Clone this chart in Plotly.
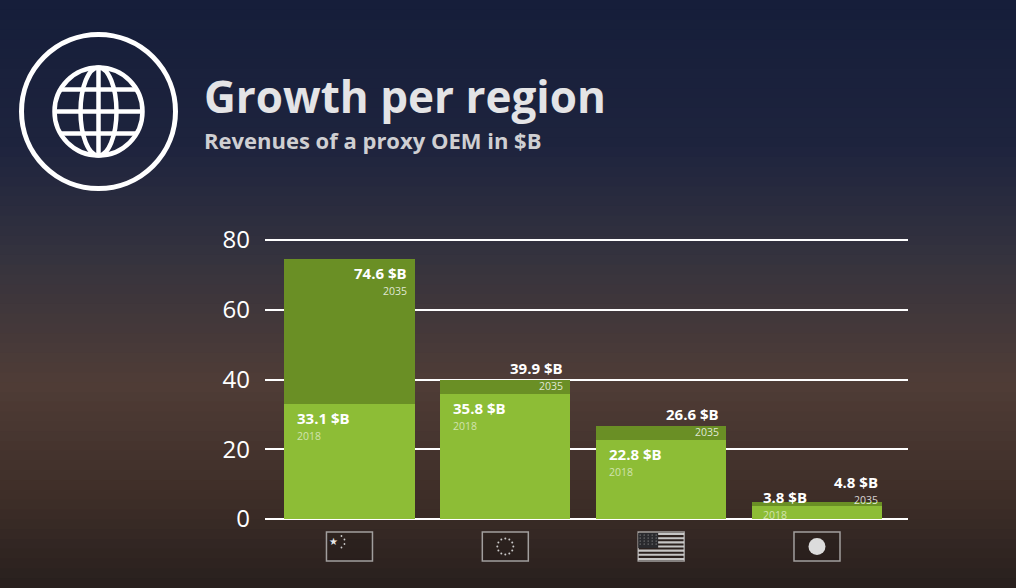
import numpy as np
import plotly.graph_objects as go

# data (revenues of a proxy OEM in $B)
regions = ["China", "EU", "USA", "Japan"]
rev_2018 = [33.1, 35.8, 22.8, 3.8]
rev_2035 = [74.6, 39.9, 26.6, 4.8]
y_ticks = [0, 20, 40, 60, 80]

W, H = 1016, 588
FONT = "Open Sans"
DARK_GREEN = "#6a8f25"
LIGHT_GREEN = "#8dbd36"

# plot area in pixels
x_left, x_right = 265, 908
y_bottom, y_top = 526, 233
y_range = [-2, 82]
x_range = [-0.542, 3.584]
bar_w = 0.836
px_per_y = (y_bottom - y_top) / (y_range[1] - y_range[0])
px_per_x = (x_right - x_left) / (x_range[1] - x_range[0])


def px(x):
    return x / W


def py(y):
    return 1 - y / H


fig = go.Figure()

fig.add_trace(go.Bar(x=list(range(len(regions))), y=rev_2035, width=bar_w,
                     marker=dict(color=DARK_GREEN, line=dict(width=0)),
                     name="2035", hoverinfo="y"))
fig.add_trace(go.Bar(x=list(range(len(regions))), y=rev_2018, width=bar_w,
                     marker=dict(color=LIGHT_GREEN, line=dict(width=0)),
                     name="2018", hoverinfo="y"))

shapes = []
annotations = []

# background: vertical gradient to mimic the blurred night city photo
stops = [(0.0, (22, 30, 58)), (0.25, (30, 36, 62)), (0.45, (55, 52, 62)),
         (0.65, (80, 61, 55)), (0.85, (62, 46, 40)), (1.0, (40, 32, 30))]
n_bands = 60
for k in range(n_bands):
    t = (k + 0.5) / n_bands
    for (t0, c0), (t1, c1) in zip(stops[:-1], stops[1:]):
        if t0 <= t <= t1:
            f = (t - t0) / (t1 - t0)
            c = [int(a + (b - a) * f) for a, b in zip(c0, c1)]
            break
    shapes.append(dict(type="rect", xref="paper", yref="paper", layer="below",
                       x0=0, x1=1, y0=1 - (k + 1) / n_bands - 0.002, y1=1 - k / n_bands,
                       fillcolor=f"rgb({c[0]},{c[1]},{c[2]})", line=dict(width=0)))

# globe icon
gx, gy = 98.5, 111.5
shapes.append(dict(type="circle", xref="paper", yref="paper",
                   x0=px(gx - 77), x1=px(gx + 77), y0=py(gy + 77), y1=py(gy - 77),
                   line=dict(color="white", width=5)))
r = 44
shapes.append(dict(type="circle", xref="paper", yref="paper",
                   x0=px(gx - r), x1=px(gx + r), y0=py(gy + r), y1=py(gy - r),
                   line=dict(color="white", width=4.5)))
shapes.append(dict(type="circle", xref="paper", yref="paper",
                   x0=px(gx - 18), x1=px(gx + 18), y0=py(gy + r), y1=py(gy - r),
                   line=dict(color="white", width=4.5)))
shapes.append(dict(type="line", xref="paper", yref="paper",
                   x0=px(gx), x1=px(gx), y0=py(gy + r), y1=py(gy - r),
                   line=dict(color="white", width=4.5)))
for dy in (-22, 0, 22):
    half = np.sqrt(r ** 2 - dy ** 2)
    shapes.append(dict(type="line", xref="paper", yref="paper",
                       x0=px(gx - half), x1=px(gx + half), y0=py(gy + dy), y1=py(gy + dy),
                       line=dict(color="white", width=4.5)))

annotations.append(dict(text="<b>Growth per region</b>", xref="paper", yref="paper",
                        x=px(202), y=py(96), xanchor="left", yanchor="middle", showarrow=False,
                        font=dict(family=FONT, size=44, color="#e4e4e6")))
annotations.append(dict(text="<b>Revenues of a proxy OEM in $B</b>", xref="paper", yref="paper",
                        x=px(202), y=py(140), xanchor="left", yanchor="middle", showarrow=False,
                        font=dict(family=FONT, size=22, color="#cfcfd2")))

# value labels: offsets in px from the bar top (positive = down)
val_font = dict(family=FONT, size=15, color="white")
y35_font = dict(family=FONT, size=10.5, color="rgba(255,255,255,0.8)")
y18_font = dict(family=FONT, size=10.5, color="rgba(255,255,255,0.6)")


def add_label(x, v, year, anchor, xs, off_val, off_year, yfont):
    annotations.append(dict(text=f"<b>{v} $B</b>", x=x, y=v, xanchor=anchor, yanchor="middle",
                            xshift=xs, yshift=-off_val, showarrow=False, borderpad=0, font=val_font))
    annotations.append(dict(text=year, x=x, y=v, xanchor=anchor, yanchor="middle",
                            xshift=xs, yshift=-off_year, showarrow=False, borderpad=0, font=yfont))


for i, (v18, v35) in enumerate(zip(rev_2018, rev_2035)):
    right = i + bar_w / 2
    left = i - bar_w / 2
    small18 = v18 * px_per_y < 40
    if (v35 - v18) * px_per_y > 40:
        add_label(right, v35, "2035", "right", -7, 14, 32, y35_font)
    elif small18:
        add_label(right, v35, "2035", "right", -3, -20, -2, y35_font)
    else:
        add_label(right, v35, "2035", "right", -6, -12, 6, y35_font)
    if small18:
        add_label(left, v18, "2018", "left", 10, -9, 9, y18_font)
    else:
        add_label(left, v18, "2018", "left", 12, 14, 32, y18_font)

# flags under each bar
fw, f_top, f_bot = 23 / px_per_x, 532, 561
flag_line = dict(color="rgba(200,200,200,0.75)", width=1.5)
for i in range(len(regions)):
    shapes.append(dict(type="rect", xref="x", yref="paper", x0=i - fw, x1=i + fw,
                       y0=py(f_bot), y1=py(f_top), line=flag_line,
                       fillcolor="rgba(0,0,0,0.12)"))


def dot(i, dx, dy, rad, color="rgba(220,220,220,0.9)"):
    cx = i + dx / px_per_x
    return dict(type="circle", xref="x", yref="paper",
                x0=cx - rad / px_per_x, x1=cx + rad / px_per_x,
                y0=py(dy + rad), y1=py(dy - rad), fillcolor=color, line=dict(width=0))


# China: big star + 4 small stars
annotations.append(dict(text="★", x=0 - 16 / px_per_x, y=py(541), yref="paper",
                        xanchor="center", yanchor="middle", borderpad=0,
                        showarrow=False, font=dict(size=10, color="#e8e8e8")))
for ddx, ddy in [(-8, 536), (-5, 539.5), (-5, 544), (-8, 547.5)]:
    shapes.append(dot(0, ddx, ddy, 0.9))
# EU: circle of 12 stars
for k in range(12):
    a = 2 * np.pi * k / 12
    shapes.append(dot(1, 8 * np.cos(a), 546.5 + 8 * np.sin(a), 1.0))
# USA: stripes and canton
for s in range(13):
    if s % 2 == 0:
        y0 = f_top + 1 + s * (f_bot - f_top - 2) / 13
        y1 = y0 + (f_bot - f_top - 2) / 13
        shapes.append(dict(type="rect", xref="x", yref="paper", x0=2 - fw, x1=2 + fw,
                           y0=py(y1), y1=py(y0), fillcolor="rgba(215,215,215,0.9)", line=dict(width=0)))
shapes.append(dict(type="rect", xref="x", yref="paper", x0=2 - fw, x1=2 - fw + 20 / px_per_x,
                   y0=py(f_top + 16), y1=py(f_top + 1), fillcolor="#2a2a2e", line=dict(width=0)))
for cxp in range(-21, -4, 4):
    for cyp in range(535, 547, 3):
        shapes.append(dot(2, cxp, cyp, 0.6, "rgba(200,200,200,0.8)"))
# Japan: sun disc
shapes.append(dot(3, 0, 546.5, 8.5, "#dcdcdc"))

fig.update_layout(
    width=W, height=H,
    margin=dict(l=0, r=0, t=0, b=0),
    paper_bgcolor="#1c2440", plot_bgcolor="rgba(0,0,0,0)",
    barmode="overlay", bargap=0, showlegend=False,
    shapes=shapes, annotations=annotations,
    xaxis=dict(domain=[px(x_left), px(x_right)], range=x_range, showgrid=False,
               showticklabels=False, zeroline=False, fixedrange=True),
    yaxis=dict(domain=[py(y_bottom), py(y_top)], range=y_range, tickvals=y_ticks,
               showgrid=True, gridcolor="white", gridwidth=2, zeroline=False,
               tickfont=dict(family=FONT, size=24, color="white"),
               ticklabelstandoff=14, fixedrange=True, automargin=False),
)

# drop the page's default body margin so the figure fills the window
fig.write_html("out.html", config={"displayModeBar": False},
               post_script="document.body.style.margin='0';document.body.style.overflow='hidden';")
